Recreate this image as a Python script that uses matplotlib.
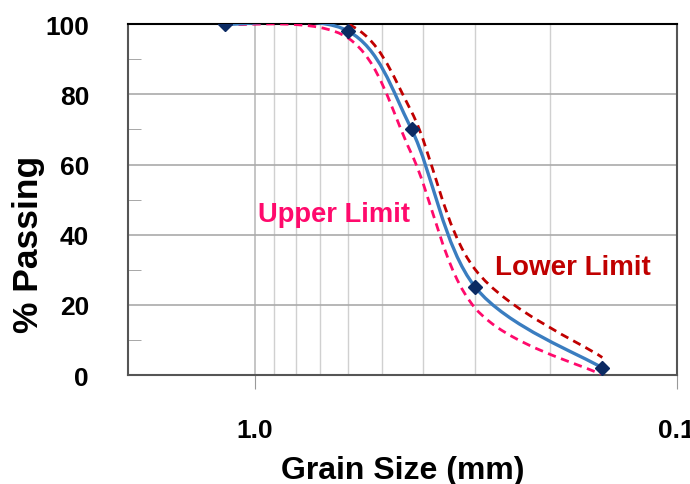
import matplotlib
matplotlib.use("Agg")
import matplotlib.pyplot as plt
import numpy as np
from matplotlib.path import Path
from matplotlib.patches import PathPatch
from matplotlib.ticker import FixedLocator, MultipleLocator, NullFormatter

plt.rcParams['font.family'] = ['Liberation Sans', 'DejaVu Sans']
plt.rcParams['font.weight'] = 'bold'

# sieve sizes (mm) and % passing
sieve_mm = [1.18, 0.6, 0.425, 0.3, 0.15]
passing = [100, 98, 70, 25, 2]
upper_limit = [100, 96, 63, 19, 0]
lower_limit = [100, 100, 75, 30, 5]

BLUE = "#3A7DC0"
NAVY = "#0B2A63"
PINK = "#FF0A6C"
DARKRED = "#C00000"


def smooth_path(xs, ys):
    # catmull-rom style bezier in (log x, y) space, like excel's smoothed line
    u = np.log10(xs)
    v = np.asarray(ys, dtype=float)
    n = len(u)
    verts = [(xs[0], ys[0])]
    codes = [Path.MOVETO]
    for i in range(n - 1):
        ua, va = (u[i - 1], v[i - 1]) if i > 0 else (u[i], v[i])
        ub, vb = (u[i + 2], v[i + 2]) if i + 2 < n else (u[i + 1], v[i + 1])
        c1 = (u[i] + (u[i + 1] - ua) / 6, v[i] + (v[i + 1] - va) / 6)
        c2 = (u[i + 1] - (ub - u[i]) / 6, v[i + 1] - (vb - v[i]) / 6)
        verts += [(10 ** c1[0], c1[1]), (10 ** c2[0], c2[1]), (xs[i + 1], ys[i + 1])]
        codes += [Path.CURVE4] * 3
    return Path(verts, codes)


fig = plt.figure(figsize=(6.9, 4.85), dpi=100)
ax = fig.add_axes([0.1855, 0.2247, 0.795, 0.7233])
ax.set_xscale('log')
ax.set_xlim(2.0, 0.1)
ax.set_ylim(0, 100)

ax.add_patch(PathPatch(smooth_path(sieve_mm, upper_limit), fill=False, edgecolor=PINK,
                       lw=2, linestyle=(0, (3, 2)), zorder=3))
ax.add_patch(PathPatch(smooth_path(sieve_mm, lower_limit), fill=False, edgecolor=DARKRED,
                       lw=2, linestyle=(0, (3, 2)), zorder=3))
ax.add_patch(PathPatch(smooth_path(sieve_mm, passing), fill=False, edgecolor=BLUE,
                       lw=2.4, zorder=4))
ax.plot(sieve_mm, passing, linestyle='none', marker='D', markersize=7,
        color=NAVY, zorder=5)

ax.text(0.984, 46, "Upper Limit", color=PINK, fontsize=19.7, fontweight='bold',
        ha='left', va='center')
ax.text(0.27, 30.8, "Lower Limit", color=DARKRED, fontsize=20, fontweight='bold',
        ha='left', va='center')

# x axis ticks
ax.xaxis.set_major_locator(FixedLocator([1.0, 0.1]))
ax.set_xticklabels(["1.0", "0.1"])
ax.xaxis.set_minor_locator(FixedLocator([0.2, 0.3, 0.4, 0.5, 0.6, 0.7, 0.8, 0.9]))
ax.xaxis.set_minor_formatter(NullFormatter())
ax.tick_params(axis='x', which='major', direction='out', length=10, color='#999999',
               pad=21, labelsize=19)
ax.tick_params(axis='x', which='minor', length=0)

# y axis ticks
ax.yaxis.set_major_locator(MultipleLocator(20))
ax.yaxis.set_minor_locator(MultipleLocator(10))
ax.tick_params(axis='y', which='major', length=0, pad=28, labelsize=19)
ax.tick_params(axis='y', which='minor', direction='in', length=9, color='#999999')

ax.grid(True, axis='x', which='major', color='#BBBBBB', lw=1.2)
ax.grid(True, axis='x', which='minor', color='#D0D0D0', lw=1.0)
ax.grid(True, axis='y', which='major', color='#AAAAAA', lw=1.2)
ax.set_axisbelow(True)

for side in ['left', 'bottom', 'right']:
    ax.spines[side].set_color('#555555')
    ax.spines[side].set_linewidth(1.5)
ax.spines['top'].set_color('black')
ax.spines['top'].set_linewidth(1.5)

ax.set_xlabel("Grain Size (mm)", fontsize=23, fontweight='bold', labelpad=9)
ax.set_ylabel("% Passing", fontsize=25.5, fontweight='bold')
ax.yaxis.set_label_coords(-0.152, 0.376)

fig.savefig("out.png", dpi=100)
